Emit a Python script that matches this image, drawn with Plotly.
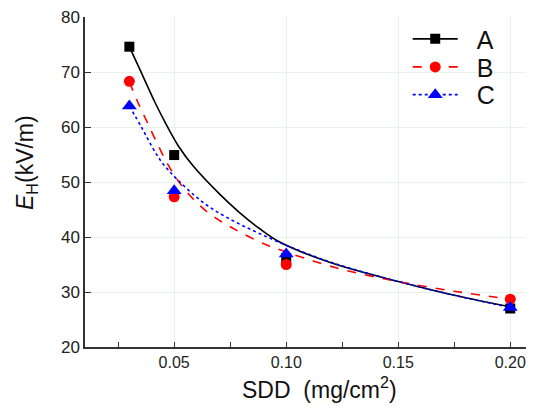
import plotly.graph_objects as go

# measured points
sdd = [0.03, 0.05, 0.10, 0.20]
a_pts = [74.6, 54.9, 36.2, 27.0]
b_pts = [68.3, 47.3, 35.0, 28.7]
c_pts = [63.8, 48.4, 36.9, 27.2]

# fitted curves
a_fit_x = [0.03, 0.0325, 0.037, 0.0414, 0.0459, 0.0518, 0.0585, 0.0703, 0.0793, 0.0882, 0.0971, 0.1193, 0.15, 0.175, 0.20]
a_fit_y = [74.6, 72.4, 68.4, 64.5, 60.9, 56.6, 52.9, 47.8, 44.4, 41.5, 39.1, 35.4, 31.9, 29.4, 27.3]
b_fit_x = [0.03, 0.034, 0.0384, 0.0429, 0.0473, 0.0525, 0.0585, 0.0659, 0.0748, 0.0882, 0.0956, 0.1223, 0.15, 0.1757, 0.20]
b_fit_y = [68.2, 64.3, 60.5, 56.6, 53.1, 49.8, 46.9, 44.2, 41.9, 39.1, 37.9, 34.4, 31.9, 30.1, 28.7]
c_fit_x = [0.03, 0.0355, 0.04, 0.0436, 0.0473, 0.0518, 0.0592, 0.0667, 0.0756, 0.0845, 0.0926, 0.10, 0.12, 0.15, 0.175, 0.20]
c_fit_y = [63.8, 59.9, 56.5, 54.1, 52.2, 50.3, 47.5, 45.2, 43.1, 41.3, 39.8, 38.5, 35.4, 31.9, 29.4, 27.2]

names = ["A", "B", "C"]
colors = ["black", "red", "blue"]
dashes = ["solid", "dash", "dot"]
symbols = ["square", "circle", "triangle-up"]
msizes = [10, 11, 13]
legend_y = [0.933, 0.848, 0.764]

pts_all = [a_pts, b_pts, c_pts]
fits = [(a_fit_x, a_fit_y), (b_fit_x, b_fit_y), (c_fit_x, c_fit_y)]

fig = go.Figure()
for i in range(3):
    fx, fy = fits[i]
    fig.add_trace(go.Scatter(x=fx, y=fy, mode="lines",
                             line=dict(color=colors[i], dash=dashes[i], width=1.6, shape="spline"),
                             showlegend=False, hoverinfo="skip"))
for i in range(3):
    fig.add_trace(go.Scatter(x=sdd, y=pts_all[i], mode="markers", name=names[i],
                             marker=dict(color=colors[i], symbol=symbols[i], size=msizes[i]), showlegend=False))
for i in range(3):
    lg = "legend" if i == 0 else f"legend{i+1}"
    fig.add_trace(go.Scatter(x=[None], y=[None], mode="lines+markers", name="&nbsp;&nbsp;" + names[i],
                             legend=lg,
                             line=dict(color=colors[i], dash=dashes[i], width=1.6),
                             marker=dict(color=colors[i], symbol=symbols[i], size=msizes[i])))

grid = "#e6f4e6"
fig.update_xaxes(range=[0.0102, 0.2097], tickvals=[0.05, 0.10, 0.15, 0.20], ticktext=["0.05", "0.10", "0.15", "0.20"],
                 showline=True, linecolor="#333", linewidth=1.5, ticks="inside", ticklen=5, tickcolor="#333",
                 minor=dict(tickvals=[0.025, 0.075, 0.125, 0.175], ticks="inside", ticklen=5, tickcolor="#333", showgrid=False),
                 showgrid=True, gridcolor=grid, zeroline=False, automargin=False, ticklabeloverflow="allow",
                 tickfont=dict(family="Liberation Sans", size=16, color="#222"))
fig.update_yaxes(range=[20, 80], tickvals=[20, 30, 40, 50, 60, 70, 80],
                 showline=True, linecolor="#333", linewidth=1.5, ticks="inside", ticklen=6, tickcolor="#333",
                 showgrid=True, gridcolor=grid, zeroline=False, automargin=False, ticklabeloverflow="allow",
                 tickfont=dict(family="Liberation Sans", size=17, color="#222"))

fig.add_annotation(text="SDD&nbsp; (mg/cm<sup>2</sup>)", xref="paper", yref="paper",
                   x=(319 - 85) / 447, y=(347 - 388) / 330, xanchor="center", yanchor="middle",
                   showarrow=False, font=dict(family="Liberation Sans", size=23, color="#111"))
fig.add_annotation(text="<i>E</i><sub>H</sub>(kV/m)", xref="paper", yref="paper",
                   x=(26 - 85) / 447, y=(347 - 163) / 330, xanchor="center", yanchor="middle", textangle=-90,
                   showarrow=False, font=dict(family="Liberation Sans", size=23, color="#111"))

leg_common = dict(x=0.722, xanchor="left", yanchor="middle", bgcolor="rgba(0,0,0,0)",
                  font=dict(family="Liberation Sans", size=25, color="#111"), itemwidth=45)
# page body has an 8px margin, so the figure is sized to fit the 534x412 window
fig.update_layout(width=526, height=404, margin=dict(l=77, r=2, t=9, b=65),
                  paper_bgcolor="white", plot_bgcolor="white",
                  legend=dict(y=legend_y[0], **leg_common),
                  legend2=dict(y=legend_y[1], **leg_common),
                  legend3=dict(y=legend_y[2], **leg_common))
fig.write_html("out.html")
